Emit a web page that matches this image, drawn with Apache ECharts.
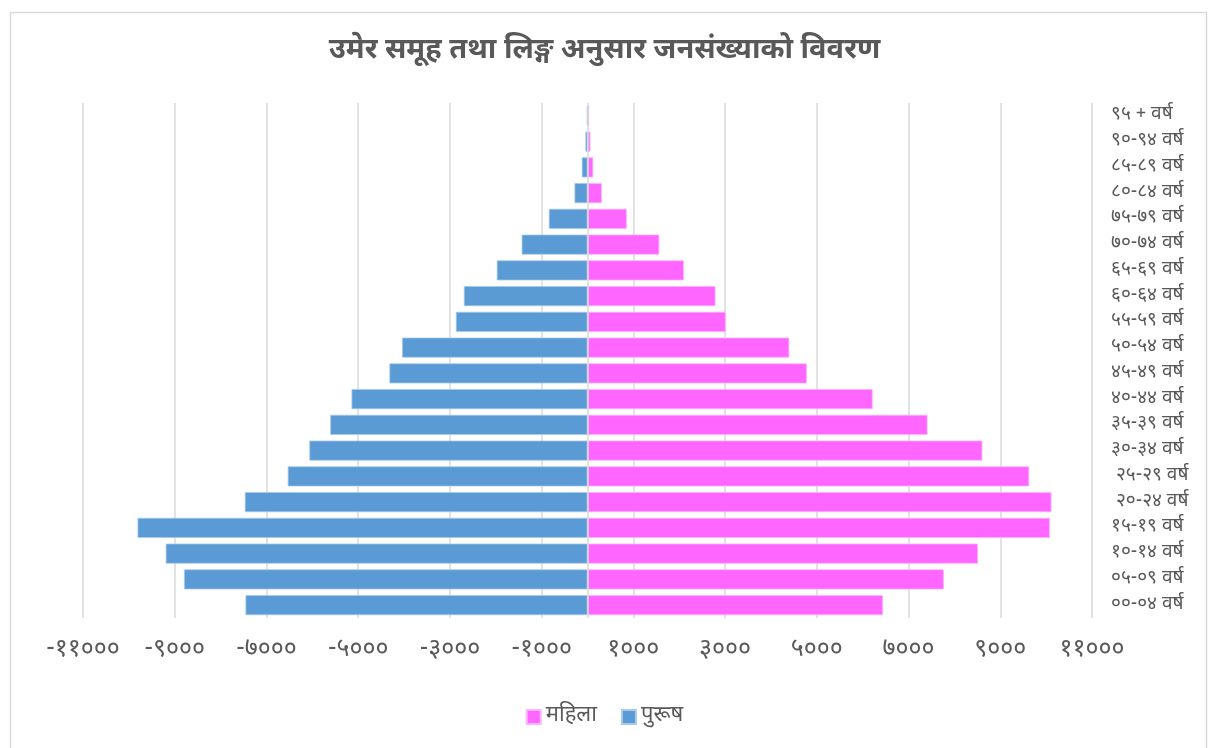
<!DOCTYPE html>
<html>
<head>
<meta charset="utf-8">
<script src="https://cdn.jsdelivr.net/npm/echarts@6/dist/echarts.min.js"></script>
<style>
html,body{margin:0;padding:0;background:#fff;}
#chart{width:1209px;height:748px;}
</style>
</head>
<body>
<div id="chart"></div>
<script>
// Categories, bottom to top
var categories = ['००-०४ वर्ष','०५-०९ वर्ष','१०-१४ वर्ष','१५-१९ वर्ष',' २०-२४ वर्ष',' २५-२९ वर्ष','३०-३४ वर्ष','३५-३९ वर्ष','४०-४४ वर्ष','४५-४९ वर्ष','५०-५४ वर्ष','५५-५९ वर्ष','६०-६४ वर्ष','६५-६९ वर्ष','७०-७४ वर्ष','७५-७९ वर्ष','८०-८४ वर्ष','८५-८९ वर्ष','९०-९४ वर्ष','९५ + वर्ष'];
// Female (महिला)
var female = [6442,7768,8514,10080,10116,9630,8609,7413,6217,4783,4399,3014,2790,2101,1565,857,312,124,65,35];
// Male (पुरूष) - shown on the left as negative values
var male = [7457,8798,9196,9811,7472,6536,6065,5609,5145,4319,4043,2870,2696,1978,1435,843,283,124,45,10];
var xTicks = {min:-11000, max:11000, step:2000};
var title = 'उमेर समूह तथा लिङ्ग अनुसार जनसंख्याको विवरण';
var seriesNames = ['महिला','पुरूष'];

var devDigits = ['०','१','२','३','४','५','६','७','८','९'];
function toDev(v){
  return String(v).replace(/[0-9]/g, function(d){ return devDigits[+d]; });
}
var FONT = "'Noto Sans Devanagari','Noto Sans',sans-serif";
var chart = echarts.init(document.getElementById('chart'));
chart.setOption({
  animation:false,
  backgroundColor:'#fff',
  textStyle:{fontFamily:FONT},
  graphic:[{type:'rect', shape:{x:10.5,y:12.5,width:1196,height:745}, style:{fill:'none', stroke:'#d9d9d9', lineWidth:1.5}, silent:true}],
  title:{text:title, left:'center', top:33, textStyle:{fontSize:29, fontWeight:'bold', color:'#595959', fontFamily:FONT}},
  legend:{data:seriesNames, bottom:15, left:'center', itemWidth:14, itemHeight:14, itemGap:24, icon:'rect',
    textStyle:{fontSize:22, color:'#595959', fontFamily:FONT}},
  grid:{left:83, right:117, top:103, bottom:130, containLabel:false},
  xAxis:{type:'value', min:xTicks.min, max:xTicks.max, interval:xTicks.step,
    axisLine:{show:false}, axisTick:{show:false},
    splitLine:{show:true, lineStyle:{color:'#d9d9d9', width:1.5}},
    axisLabel:{margin:21, fontSize:25, color:'#595959', fontFamily:FONT,
      formatter:function(v){ return (v<0?'-':'') + toDev(Math.abs(v)); }}
  },
  yAxis:{type:'category', position:'right', data:categories,
    axisLine:{show:false}, axisTick:{show:false},
    axisLabel:{margin:19, align:'left', fontSize:19, color:'#595959', fontFamily:FONT}
  },
  series:[
    {name:seriesNames[0], type:'bar', stack:'t', data:female, barCategoryGap:'22%',
      itemStyle:{color:'#FF66FF', borderColor:'#ffb3ff', borderWidth:0.75},
      markLine:{silent:true, symbol:'none', label:{show:false}, lineStyle:{color:'#d9d9d9', width:1.5, type:'solid'}, data:[{xAxis:0}]}
    },
    {name:seriesNames[1], type:'bar', stack:'t', data:male.map(function(v){return -v;}), barCategoryGap:'22%',
      itemStyle:{color:'#5B9BD5', borderColor:'#a8c9e8', borderWidth:0.75}
    }
  ]
});
</script>
</body>
</html>
